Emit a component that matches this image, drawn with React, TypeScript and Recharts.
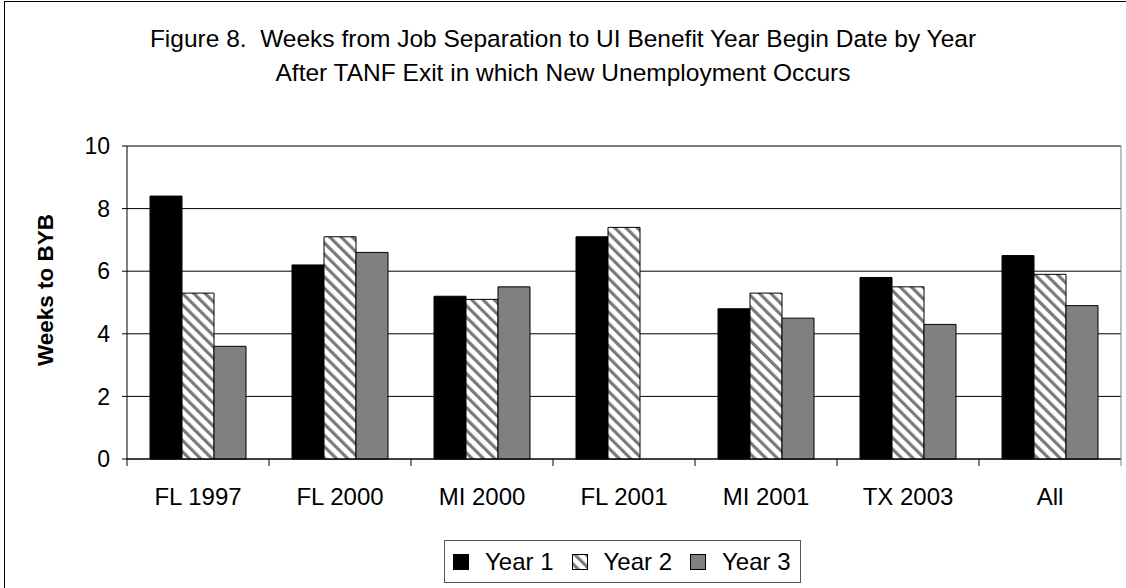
import React from 'react';
import { BarChart, Bar, XAxis, YAxis, CartesianGrid, Legend } from 'recharts';

const categories = ['FL 1997', 'FL 2000', 'MI 2000', 'FL 2001', 'MI 2001', 'TX 2003', 'All'];
const year1 = [8.4, 6.2, 5.2, 7.1, 4.8, 5.8, 6.5];
const year2 = [5.3, 7.1, 5.1, 7.4, 5.3, 5.5, 5.9];
const year3: (number | null)[] = [3.6, 6.6, 5.5, null, 4.5, 4.3, 4.9];
const yTicks = [0, 2, 4, 6, 8, 10];
const seriesNames = ['Year 1', 'Year 2', 'Year 3'];
const titleLines = [
  'Figure 8.  Weeks from Job Separation to UI Benefit Year Begin Date by Year',
  'After TANF Exit in which New Unemployment Occurs',
];
const yTitle = 'Weeks to BYB';

const data = categories.map((c, i) => ({ category: c, y1: year1[i], y2: year2[i], y3: year3[i] }));

const FONT = '"Liberation Sans", Arial, sans-serif';
const HATCH = 'url(#hatchY2)';

const XTick = (props: any) => {
  const { x, y, payload, index, visibleTicksCount } = props;
  const off = payload && payload.offset ? payload.offset : 0;
  const last = index === (visibleTicksCount ?? categories.length) - 1;
  return (
    <g>
      <line x1={x - off} y1={y} x2={x - off} y2={y + 7} stroke="#000" strokeWidth={1} />
      {last && <line x1={x + off} y1={y} x2={x + off} y2={y + 7} stroke="#808080" strokeWidth={1} />}
      <text x={x} y={y + 29} dy="0.71em" textAnchor="middle" fontSize={24} fill="#000" fontFamily={FONT}>
        {payload.value}
      </text>
    </g>
  );
};

const LegendContent = (props: any) => {
  const { payload } = props;
  return (
    <div
      style={{
        boxSizing: 'border-box',
        width: 357,
        height: 43,
        border: '1px solid #555',
        background: '#fff',
        display: 'flex',
        flexWrap: 'nowrap',
        alignItems: 'center',
        paddingLeft: 8,
        fontFamily: FONT,
        fontSize: 24,
        color: '#000',
        whiteSpace: 'nowrap',
        overflow: 'hidden',
      }}
    >
      {(payload || []).map((p: any, i: number) => (
        <div key={i} style={{ display: 'flex', alignItems: 'center', marginRight: 18, flexShrink: 0 }}>
          <svg width={16} height={16} style={{ display: 'block', marginRight: 16, flexShrink: 0 }}>
            <rect x={0.5} y={0.5} width={15} height={15} fill={p.color} stroke="#000" strokeWidth={1} />
          </svg>
          <span style={{ whiteSpace: 'nowrap' }}>{p.value}</span>
        </div>
      ))}
    </div>
  );
};

export default function App() {
  return (
    <div style={{ position: 'fixed', left: 0, top: 0, width: 1126, height: 588, overflow: 'hidden', background: '#fff' }}>
      <div
        style={{
          position: 'absolute',
          left: 4,
          top: 1,
          width: 1200,
          height: 700,
          border: '1px solid #000',
          boxSizing: 'border-box',
        }}
      />
      <div
        style={{
          position: 'absolute',
          left: 0,
          top: 22,
          width: 1126,
          textAlign: 'center',
          fontFamily: FONT,
          fontSize: 24.5,
          lineHeight: '34px',
          color: '#000',
          whiteSpace: 'pre',
        }}
      >
        {titleLines.map((t, i) => (
          <div key={i}>{t}</div>
        ))}
      </div>
      <div style={{ position: 'absolute', left: 0, top: 0 }}>
        <BarChart
          width={1126}
          height={588}
          data={data}
          margin={{ top: 146, right: 1, left: 0, bottom: 46 }}
          barSize={32}
          barGap={0}
        >
          <defs>
            <pattern id="hatchY2" patternUnits="userSpaceOnUse" width={8} height={8} patternTransform="rotate(-45)">
              <rect x={0} y={0} width={8} height={8} fill="#fff" />
              <rect x={0} y={0} width={3.2} height={8} fill="#7a7a7a" />
            </pattern>
          </defs>
          <CartesianGrid vertical={false} stroke="#000" strokeWidth={1} />
          <XAxis
            dataKey="category"
            height={40}
            tickSize={0}
            tickMargin={0}
            tickLine={false}
            axisLine={{ stroke: '#000' }}
            tick={<XTick />}
            interval={0}
          />
          <YAxis
            width={127}
            domain={[0, 10]}
            ticks={yTicks}
            tickSize={5}
            tickMargin={12}
            tick={{ fontSize: 23, fill: '#000', fontFamily: FONT }}
            tickLine={{ stroke: '#000' }}
            axisLine={{ stroke: '#000' }}
            label={{
              content: () => (
                <text
                  x={45}
                  y={290}
                  transform="rotate(-90 45 290)"
                  textAnchor="middle"
                  dominantBaseline="central"
                  fontSize={22.5}
                  fontWeight="bold"
                  fontFamily={FONT}
                  fill="#000"
                >
                  {yTitle}
                </text>
              ),
            }}
          />
          <YAxis
            yAxisId="r"
            orientation="right"
            width={4}
            domain={[0, 10]}
            tick={false}
            tickLine={false}
            axisLine={{ stroke: '#808080' }}
          />
          <Legend
            verticalAlign="bottom"
            content={<LegendContent />}
            wrapperStyle={{ position: 'absolute', left: 444, top: 540, width: 357, height: 43 }}
          />
          <Bar dataKey="y1" name={seriesNames[0]} fill="#000" stroke="#000" strokeWidth={1} isAnimationActive={false} />
          <Bar dataKey="y2" name={seriesNames[1]} fill={HATCH} stroke="#000" strokeWidth={1} isAnimationActive={false} />
          <Bar dataKey="y3" name={seriesNames[2]} fill="#808080" stroke="#000" strokeWidth={1} isAnimationActive={false} />
        </BarChart>
      </div>
    </div>
  );
}
